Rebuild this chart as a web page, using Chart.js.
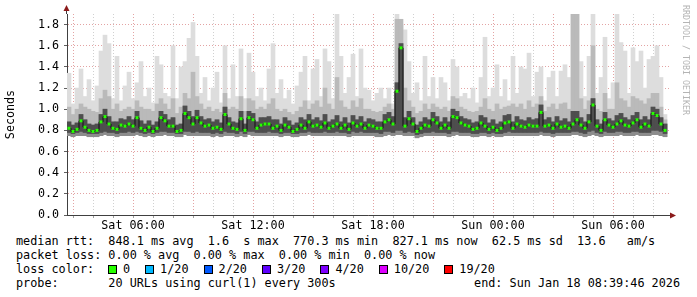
<!DOCTYPE html>
<html>
<head>
<meta charset="utf-8">
<script src="https://cdn.jsdelivr.net/npm/chart.js@4/dist/chart.umd.min.js"></script>
<style>
body { margin: 0; background: #fff; }
#wrap { position: relative; width: 697px; height: 297px; overflow: hidden; }
#plot { position: absolute; left: 0; top: 0; width: 697px; height: 232px; }
.ln { position: absolute; left: 16px; margin: 0; font: 11.8px/14px "DejaVu Sans Mono", monospace; color: #000; white-space: pre; }
#end { left: auto; right: 17px; }
#lossItems { position: absolute; left: 108px; top: 262px; font: 11.8px/14px "DejaVu Sans Mono", monospace; white-space: pre; display: flex; align-items: center; }
.box { display: inline-block; width: 7px; height: 7px; border: 1px solid #000; margin-right: 6px; }
.lab { margin-right: 15px; }
#wm { position: absolute; left: 681px; top: 5px; writing-mode: vertical-rl; font: 8.3px "DejaVu Sans Mono", monospace; color: #b4b4b4; }
</style>
</head>
<body>
<div id="wrap">
  <div id="plot"><canvas id="c"></canvas></div>
  <div id="wm">RRDTOOL / TOBI OETIKER</div>
  <pre class="ln" id="l1" style="top:234px"></pre>
  <pre class="ln" id="l2" style="top:248px"></pre>
  <pre class="ln" id="l3" style="top:262px">loss color:</pre>
  <div id="lossItems"></div>
  <pre class="ln" id="l4" style="top:276px"></pre>
  <pre class="ln" id="end" style="top:276px"></pre>
</div>
<script>
// time buckets: 12 minutes each, starting Sat 02:42 (hours since Sat 00:00)
const startHour = 2.7;
const stepHours = 0.2;

// top of the lightest smoke (slowest ping), seconds
const maxS = [
  1.34,1.05,1.2,1.38,1.12,1.28,1.08,1.22,1.55,1.7,1.62,1.1,1.5,1.08,1.22,1.35,1.1,1.25,1.45,1.12,1.2,1.06,1.5,1.42,1.15,
  1.12,1.6,1.1,1.4,1.45,1.67,1.82,1.5,1.15,1.3,1.08,1.2,1.35,1.06,1.6,1.1,1.42,1.12,1.57,1.1,1.53,1.35,1.12,1.2,1.08,
  1.38,1.62,1.15,1.28,1.1,1.18,1.05,1.22,1.35,1.5,1.08,1.38,1.47,1.12,1.57,1.45,1.1,1.9,1.5,1.15,1.3,1.52,1.12,1.57,1.2,
  1.18,1.08,1.15,1.2,1.1,1.2,1.05,1.9,1.8,1.75,1.45,1.15,1.25,1.08,1.5,1.12,1.3,1.1,1.3,1.25,1.08,1.47,1.4,1.12,1.15,
  1.1,1.2,1.06,1.3,1.68,1.12,1.2,1.42,1.12,1.28,1.08,1.5,1.15,1.4,1.38,1.53,1.12,1.35,1.4,1.08,1.3,1.36,1.12,1.36,1.42,
  1.3,1.92,1.92,1.45,1.12,1.5,1.92,1.15,1.3,1.68,1.1,1.25,1.92,1.63,1.55,1.15,1.58,1.45,1.55,1.2,1.47,1.5,1.6,1.3,0.95
];
// top of the middle smoke
const q80 = [
  1.02,0.95,1.0,1.05,1.02,1.0,0.98,0.97,1.1,1.18,1.12,1.0,1.05,0.98,1.0,1.02,1.0,1.08,1.02,1.0,1.0,0.98,1.05,1.1,1.05,
  1.0,1.1,0.96,1.02,1.15,1.1,1.35,1.12,1.05,1.0,1.02,0.98,1.0,0.97,1.15,1.0,1.02,1.0,1.12,0.98,1.1,1.08,1.0,1.02,1.0,
  1.05,1.1,1.0,0.98,1.0,0.97,0.95,0.98,1.02,1.08,1.0,1.05,1.08,1.02,1.2,1.05,1.0,1.3,1.08,1.02,1.0,1.08,1.02,1.1,1.0,
  1.0,0.98,0.97,0.98,1.02,1.05,1.0,1.85,1.85,1.2,1.08,1.02,0.96,0.98,1.05,1.0,1.05,1.02,1.0,1.02,0.98,1.12,1.1,1.02,1.0,
  0.98,0.97,0.98,1.02,1.1,1.0,0.98,1.05,1.0,1.02,1.03,1.05,1.02,1.05,1.0,1.08,1.02,1.05,1.12,0.98,1.02,1.05,1.0,1.05,1.06,
  1.0,1.9,1.9,1.1,1.0,1.08,1.6,1.0,0.98,1.15,1.0,1.0,1.25,1.1,1.08,1.02,1.12,1.1,1.08,1.05,1.1,1.15,1.15,1.02,0.9
];
// top of the dark smoke
const q60 = [
  0.88,0.85,0.87,0.95,0.9,0.86,0.85,0.86,0.95,1.0,0.93,0.88,0.88,0.91,0.9,0.93,0.9,0.98,0.89,0.86,0.89,0.85,0.88,0.98,0.95,
  0.9,0.92,0.85,0.86,1.03,0.98,0.93,0.99,0.93,0.9,0.91,0.88,0.9,0.87,1.02,0.92,0.88,0.87,0.98,0.86,0.98,0.96,0.88,0.92,0.92,
  0.93,0.9,0.9,0.86,0.92,0.89,0.85,0.87,0.92,0.9,0.95,0.9,0.92,0.89,0.95,0.88,0.9,0.94,0.88,0.92,0.87,0.94,0.9,0.93,0.88,
  0.91,0.9,0.88,0.88,0.95,0.97,0.93,1.25,1.62,0.92,0.98,0.92,0.85,0.88,0.92,0.9,0.97,0.93,0.88,0.92,0.88,1.0,0.98,0.93,0.91,
  0.9,0.87,0.88,0.94,0.92,0.87,0.9,0.86,0.88,0.94,0.95,0.88,0.93,0.9,0.89,0.92,0.9,0.91,1.04,0.9,0.92,0.88,0.93,0.89,0.91,
  0.88,0.98,0.98,0.92,0.88,0.95,1.1,0.9,0.86,0.97,0.91,0.89,0.94,0.96,0.92,0.9,0.94,0.97,0.9,0.93,0.9,1.02,1.0,0.92,0.86
];
// median rtt
const median = [
  0.82,0.79,0.81,0.89,0.83,0.80,0.79,0.80,0.88,0.93,0.86,0.82,0.81,0.85,0.84,0.86,0.84,0.92,0.82,0.80,0.83,0.79,0.82,0.92,0.89,
  0.84,0.84,0.79,0.80,0.96,0.92,0.86,0.92,0.87,0.84,0.85,0.82,0.83,0.81,0.95,0.86,0.82,0.81,0.91,0.80,0.92,0.90,0.82,0.85,0.86,
  0.86,0.82,0.84,0.80,0.85,0.83,0.79,0.81,0.85,0.82,0.88,0.84,0.85,0.83,0.87,0.82,0.84,0.86,0.82,0.85,0.81,0.87,0.84,0.86,0.82,
  0.85,0.84,0.82,0.82,0.88,0.90,0.86,1.17,1.58,0.84,0.91,0.86,0.79,0.82,0.85,0.84,0.90,0.87,0.82,0.85,0.82,0.93,0.92,0.87,0.85,
  0.84,0.81,0.82,0.87,0.84,0.81,0.83,0.80,0.82,0.87,0.88,0.82,0.86,0.84,0.83,0.85,0.84,0.84,0.97,0.84,0.85,0.82,0.86,0.83,0.84,
  0.82,0.86,0.90,0.85,0.82,0.88,1.04,0.84,0.80,0.90,0.85,0.83,0.86,0.89,0.85,0.84,0.87,0.90,0.83,0.86,0.84,0.96,0.94,0.86,0.80
];
// bottom of the dark smoke
const q20 = [
  0.78,0.77,0.78,0.79,0.78,0.77,0.77,0.77,0.78,0.79,0.78,0.78,0.77,0.78,0.78,0.79,0.78,0.79,0.78,0.77,0.78,0.77,0.78,0.79,0.79,
  0.78,0.78,0.77,0.77,0.79,0.79,0.78,0.79,0.78,0.78,0.78,0.77,0.78,0.77,0.79,0.78,0.78,0.77,0.79,0.77,0.79,0.79,0.78,0.78,0.78,
  0.79,0.78,0.78,0.77,0.78,0.78,0.77,0.77,0.78,0.78,0.79,0.78,0.78,0.78,0.79,0.78,0.78,0.79,0.78,0.78,0.77,0.79,0.78,0.79,0.78,
  0.78,0.78,0.78,0.77,0.79,0.79,0.78,0.8,0.8,0.78,0.79,0.78,0.76,0.77,0.78,0.78,0.79,0.78,0.78,0.78,0.77,0.79,0.79,0.78,0.78,
  0.78,0.77,0.77,0.78,0.78,0.77,0.78,0.77,0.77,0.78,0.79,0.78,0.78,0.78,0.78,0.78,0.78,0.78,0.79,0.78,0.78,0.77,0.78,0.78,0.78,
  0.78,0.79,0.79,0.78,0.77,0.79,0.8,0.78,0.77,0.79,0.78,0.78,0.79,0.79,0.78,0.78,0.79,0.79,0.78,0.78,0.78,0.8,0.8,0.79,0.77
];
// fastest ping
const minS = [
  0.75,0.74,0.75,0.75,0.75,0.74,0.74,0.74,0.75,0.76,0.75,0.75,0.74,0.75,0.75,0.75,0.75,0.76,0.75,0.74,0.75,0.74,0.75,0.75,0.76,
  0.75,0.75,0.74,0.74,0.76,0.75,0.75,0.75,0.75,0.75,0.75,0.74,0.75,0.74,0.75,0.75,0.75,0.74,0.75,0.74,0.76,0.75,0.75,0.75,0.75,
  0.75,0.75,0.75,0.74,0.75,0.75,0.74,0.74,0.75,0.75,0.76,0.75,0.75,0.75,0.75,0.75,0.75,0.75,0.75,0.75,0.74,0.75,0.75,0.75,0.75,
  0.75,0.75,0.74,0.74,0.75,0.76,0.75,0.76,0.76,0.75,0.75,0.75,0.73,0.74,0.75,0.75,0.75,0.75,0.75,0.75,0.74,0.75,0.76,0.75,0.75,
  0.75,0.74,0.74,0.75,0.75,0.74,0.75,0.74,0.74,0.75,0.75,0.75,0.75,0.75,0.75,0.75,0.75,0.75,0.76,0.75,0.75,0.74,0.75,0.75,0.75,
  0.75,0.76,0.76,0.75,0.74,0.75,0.76,0.75,0.74,0.75,0.75,0.75,0.75,0.76,0.75,0.75,0.75,0.76,0.75,0.75,0.75,0.76,0.76,0.75,0.74
];

const xLabelHours = [6, 12, 18, 24, 30];
const xLabels = ['Sat 06:00', 'Sat 12:00', 'Sat 18:00', 'Sun 00:00', 'Sun 06:00'];
const yMax = 1.9;

const rttStats = ['848.1 ms avg', '1.6  s max', '770.3 ms min', '827.1 ms now', '62.5 ms sd', '13.6   am/s'];
const lossStats = ['0.00 % avg', '0.00 % max', '0.00 % min', '0.00 % now'];
const lossLabels = ['0', '1/20', '2/20', '3/20', '4/20', '10/20', '19/20'];
const lossColors = ['#26ff00', '#00b8ff', '#0059ff', '#5e00ff', '#7e00ff', '#dd00ff', '#ff0000'];
const probeText = '20 URLs using curl(1) every 300s';
const endText = 'end: Sun Jan 18 08:39:46 2026';

// legend text
document.getElementById('l1').textContent = 'median rtt:  ' + rttStats.join('  ');
document.getElementById('l2').textContent = 'packet loss: ' + lossStats.join('  ');
document.getElementById('l4').textContent = 'probe:       ' + probeText;
document.getElementById('end').textContent = endText;
const lossBox = document.getElementById('lossItems');
lossLabels.forEach((t, i) => {
    const b = document.createElement('span');
    b.className = 'box';
    b.style.background = lossColors[i];
    const s = document.createElement('span');
    s.className = 'lab';
    s.textContent = t;
    lossBox.appendChild(b);
    lossBox.appendChild(s);
});

const hours = median.map((_, i) => startHour + stepHours * (i + 0.5));
const band = (lo, hi) => hours.map((h, i) => ({ x: h, y: [lo[i], hi[i]] }));

const majorGrid = '#e3a3a3';
const minorGrid = '#d0d0d0';

const axisArrows = {
    id: 'axisArrows',
    afterDraw(chart) {
        const { ctx, chartArea: a } = chart;
        const x0 = Math.round(a.left) - 0.5;
        const y0 = Math.round(a.bottom) + 0.5;
        ctx.save();
        ctx.strokeStyle = '#404040';
        ctx.lineWidth = 1;
        ctx.beginPath();
        ctx.moveTo(x0, a.top);
        ctx.lineTo(x0, a.top - 4);
        ctx.moveTo(a.right, y0);
        ctx.lineTo(a.right + 3, y0);
        ctx.stroke();
        ctx.fillStyle = '#8b1a1a';
        ctx.beginPath();
        ctx.moveTo(x0, a.top - 9);
        ctx.lineTo(x0 - 3, a.top - 3);
        ctx.lineTo(x0 + 3, a.top - 3);
        ctx.closePath();
        ctx.fill();
        ctx.beginPath();
        ctx.moveTo(a.right + 7, y0);
        ctx.lineTo(a.right + 1, y0 - 3);
        ctx.lineTo(a.right + 1, y0 + 3);
        ctx.closePath();
        ctx.fill();
        ctx.restore();
    }
};

Chart.defaults.font.family = '"DejaVu Sans Mono", monospace';
Chart.defaults.font.size = 11.7;
Chart.defaults.color = '#000';

new Chart(document.getElementById('c'), {
    type: 'bar',
    data: {
        datasets: [
            {
                type: 'line',
                data: hours.map((h, i) => ({ x: h, y: median[i] })),
                borderColor: '#101010',
                borderWidth: 1,
                stepped: 'middle',
                pointStyle: 'rect',
                pointRadius: 2.1,
                pointBorderWidth: 0,
                pointBackgroundColor: lossColors[0],
                order: 0
            },
            { data: band(q20, q60), backgroundColor: '#4e4e4e', order: 1 },
            { data: band(minS, q60), backgroundColor: '#8c8c8c', order: 2 },
            { data: band(minS, q80), backgroundColor: '#bababa', order: 3 },
            { data: band(minS, maxS), backgroundColor: '#dddddd', order: 4 }
        ]
    },
    options: {
        responsive: true,
        maintainAspectRatio: false,
        devicePixelRatio: 1,
        animation: false,
        events: [],
        layout: { padding: { top: 14, right: 28, left: 0, bottom: 0 } },
        datasets: {
            bar: { grouped: false, barPercentage: 1, categoryPercentage: 1, borderWidth: 0 }
        },
        plugins: { legend: { display: false }, tooltip: { enabled: false } },
        scales: {
            x: {
                type: 'linear',
                min: startHour,
                max: 32.8,
                offset: false,
                z: 1,
                afterBuildTicks: (axis) => {
                    const t = [];
                    for (let h = 3; h <= 32; h++) t.push({ value: h });
                    axis.ticks = t;
                },
                afterFit: (axis) => { axis.height = 17; },
                grid: {
                    offset: false,
                    color: (c) => (c.tick && c.tick.value % 3 === 0) ? majorGrid : minorGrid,
                    tickLength: 3,
                    tickColor: '#a0a0a0',
                    tickBorderDash: []
                },
                border: { color: '#404040', width: 1, dash: [1, 2] },
                ticks: {
                    autoSkip: false,
                    maxRotation: 0,
                    padding: 1,
                    callback: (v) => {
                        const k = xLabelHours.indexOf(v);
                        return k >= 0 ? xLabels[k] : '';
                    }
                }
            },
            y: {
                min: 0,
                max: yMax,
                z: 1,
                afterBuildTicks: (axis) => {
                    const t = [];
                    for (let k = 0; k <= 19; k++) t.push({ value: k / 10 });
                    axis.ticks = t;
                },
                afterFit: (axis) => { axis.width = 67; },
                grid: {
                    color: (c) => (c.tick && Math.round(c.tick.value * 10) % 2 === 0) ? majorGrid : minorGrid,
                    tickLength: 3,
                    tickColor: '#606060',
                    tickBorderDash: []
                },
                border: { color: '#404040', width: 1, dash: [1, 2] },
                ticks: {
                    padding: 5,
                    callback: (v) => {
                        const k = Math.round(v * 10);
                        return (k % 2 === 0 && k <= 18) ? (k / 10).toFixed(1) : '';
                    }
                },
                title: { display: true, text: 'Seconds', padding: { top: 4, bottom: 0 } }
            }
        }
    },
    plugins: [axisArrows]
});
</script>
</body>
</html>
